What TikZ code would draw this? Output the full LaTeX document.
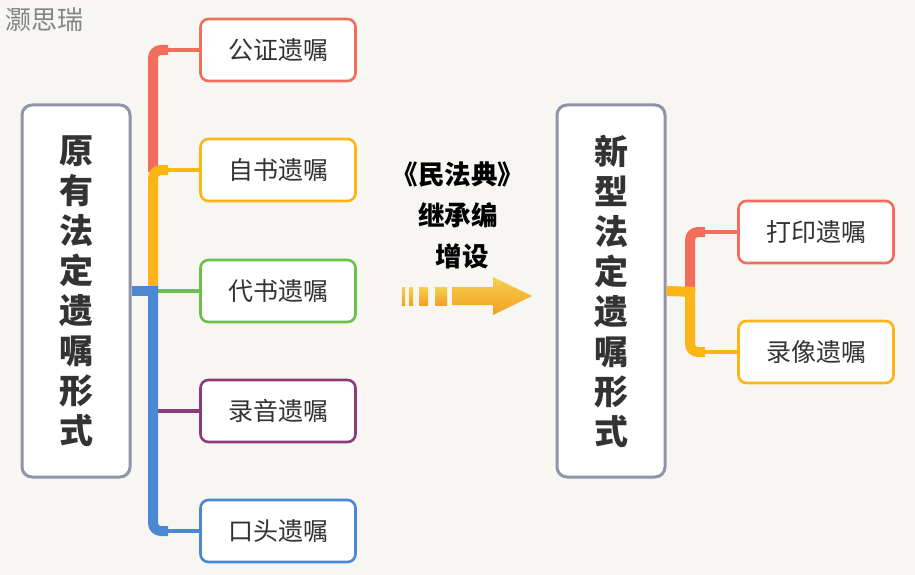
\documentclass[tikz,border=0pt]{standalone}
\usepackage{fontspec}
\setmainfont{Noto Sans CJK SC}
\usepackage{tikz}
\usetikzlibrary{positioning,calc}
\definecolor{cBg}{HTML}{F7F6F3}
\definecolor{cFrame}{HTML}{8E95A8}
\definecolor{cRed}{HTML}{F26D5B}
\definecolor{cOrange}{HTML}{FDB515}
\definecolor{cGreen}{HTML}{6CBF4B}
\definecolor{cPurple}{HTML}{8B3C7E}
\definecolor{cBlue}{HTML}{4A88D4}
\definecolor{cText}{HTML}{333333}
\definecolor{cArrTop}{HTML}{F7D04C}
\definecolor{cArrBot}{HTML}{F2A024}

\begin{document}
\begin{tikzpicture}[
  x=1pt, y=-1pt,
  bigbox/.style={rounded corners=10pt, draw=cFrame, line width=3pt, fill=white,
                 align=center, minimum width=108pt, minimum height=372pt,
                 text=cText, font=\fontsize{34}{40}\selectfont\bfseries},
  leaf/.style={rounded corners=8pt, draw=#1, line width=2.6pt, fill=white,
               minimum width=155pt, minimum height=62pt, text=cText,
               font=\fontsize{25}{28}\selectfont},
  trunk/.style={line width=10pt, rounded corners=8pt},
  twig/.style={line width=4pt},
  law/.style={font=\fontsize{26.5}{28}\selectfont\bfseries, text=black},
]

% ---------------- canvas ----------------
\fill[cBg] (0,0) rectangle (915,575);
\useasboundingbox (0,0) rectangle (915,575);
\node (mark) [anchor=west, text=black!48, font=\fontsize{26}{28}\selectfont] at (2,20) {灏思瑞};

% ---------------- existing forms ----------------
\node (old) [bigbox] at (76,291) {原\\有\\法\\定\\遗\\嘱\\形\\式};

\node (gz) [leaf=cRed]    at (278,50)  {公证遗嘱};
\node (zs) [leaf=cOrange] at (278,170) {自书遗嘱};
\node (ds) [leaf=cGreen]  at (278,291) {代书遗嘱};
\node (ly) [leaf=cPurple] at (278,411) {录音遗嘱};
\node (kt) [leaf=cBlue]   at (278,531) {口头遗嘱};

% branches, drawn top to bottom so each corner covers the one above
\draw[trunk, cRed]    (153,172) |- (168,50);
\draw[twig, cRed]     (160,50) -- (gz.west);
\draw[trunk, cOrange] (153,292) |- (168,170);
\draw[twig, cOrange]  (160,170) -- (zs.west);
\draw[twig, cGreen]   (156,291) -- (ds.west);
\draw[twig, cPurple]  (156,411) -- (ly.west);
\draw[trunk, cBlue]   (153,286) |- (168,531);
\draw[twig, cBlue]    (160,531) -- (kt.west);
\draw[line width=10pt, cBlue] (old.east) -- (158,291);

% ---------------- change by the code ----------------
\node (t1) [law] at (458,174) {《民法典》};
\node (t2) [law, below=9pt of t1] {继承编};
\node (t3) [law, below=9pt of t2, xshift=4pt] {增设};

\foreach \a/\b in {402/405, 409/413, 419/428, 435/447}
  \shade[top color=cArrTop, bottom color=cArrBot] (\a,287) rectangle (\b,305);
\coordinate (tip) at (532,296);
\shade[top color=cArrTop, bottom color=cArrBot]
  (452,287) -- (493,287) -- (493,277) -- (tip) -- (493,315) -- (493,305) -- (452,305) -- cycle;

% ---------------- new forms ----------------
\node (new) [bigbox] at (611,291) {新\\型\\法\\定\\遗\\嘱\\形\\式};

\node (dy) [leaf=cRed]    at (816,232) {打印遗嘱};
\node (lx) [leaf=cOrange] at (816,352) {录像遗嘱};

\draw[trunk, cRed]    (690,292) |- (705,232);
\draw[twig, cRed]     (697,232) -- (dy.west);
\draw[trunk, cOrange] (690,288) |- (705,352);
\draw[twig, cOrange]  (697,352) -- (lx.west);
\draw[line width=10pt, cOrange] (new.east) -- (695,292);

\end{tikzpicture}
\end{document}
